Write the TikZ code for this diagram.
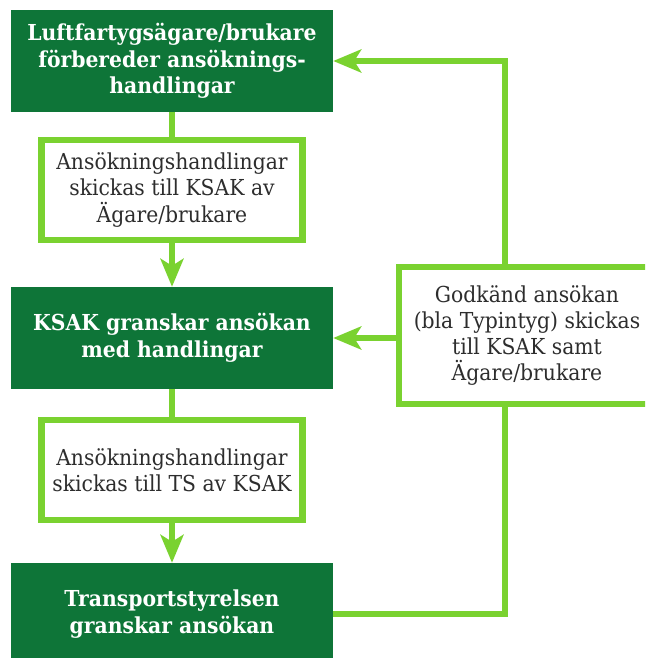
\documentclass[tikz,border=0pt]{standalone}
\usepackage{fontspec}
\setmainfont{DejaVu Serif}[FakeStretch=0.925]
\usetikzlibrary{arrows.meta,calc}
\definecolor{darkgr}{RGB}{14,117,56}
\definecolor{lightgr}{RGB}{122,210,48}
\definecolor{txtgray}{RGB}{45,45,45}
\tikzset{
  darkbox/.style={fill=darkgr, draw=none, text=white, align=center,
    minimum width=322pt, minimum height=102pt, inner sep=0pt,
    font=\fontsize{22}{26.5}\selectfont\bfseries},
  lightbox/.style={fill=white, draw=lightgr, line width=6.5pt, text=txtgray, align=center,
    minimum width=261pt, minimum height=100pt, inner sep=0pt,
    font=\fontsize{22}{26.2}\selectfont},
  conn/.style={draw=lightgr, line width=6.5pt},
  arr/.style={conn, -{Stealth[length=28pt, width=23pt, inset=7pt]}}
}
\begin{document}
\begin{tikzpicture}[x=1pt, y=-1pt]
\useasboundingbox (0,0) rectangle (645,658);
\clip (0,0) rectangle (645,658);
\node[darkbox] (b1) at (172,61) {Luftfartygsägare/brukare\\förbereder ansöknings-\\handlingar};
\node[lightbox] (b2) at (172,190) {Ansökningshandlingar\\skickas till KSAK av\\Ägare/brukare};
\node[darkbox] (b3) at (172,338) {KSAK granskar ansökan\\med handlingar};
\node[lightbox] (b4) at (172,470) {Ansökningshandlingar\\skickas till TS av KSAK};
\node[darkbox] (b5) at (172,614) {Transportstyrelsen\\granskar ansökan};
\node[lightbox, minimum width=256pt, minimum height=137pt] (rb) at (527,335.5) {Godkänd ansökan\\(bla Typintyg) skickas\\till KSAK samt\\Ägare/brukare};
\coordinate (j) at (505,0);
\draw[conn] (b1.south) -- (b2.north);
\draw[arr] (b2.south) -- (b3.north);
\draw[conn] (b3.south) -- (b4.north);
\draw[arr] (b4.south) -- (b5.north);
\draw[arr] (rb.north -| j) |- (b1.east);
\draw[arr] (rb.west |- b3.east) -- (b3.east);
\draw[conn] (b5.east) -| (rb.south -| j);
\end{tikzpicture}
\end{document}
